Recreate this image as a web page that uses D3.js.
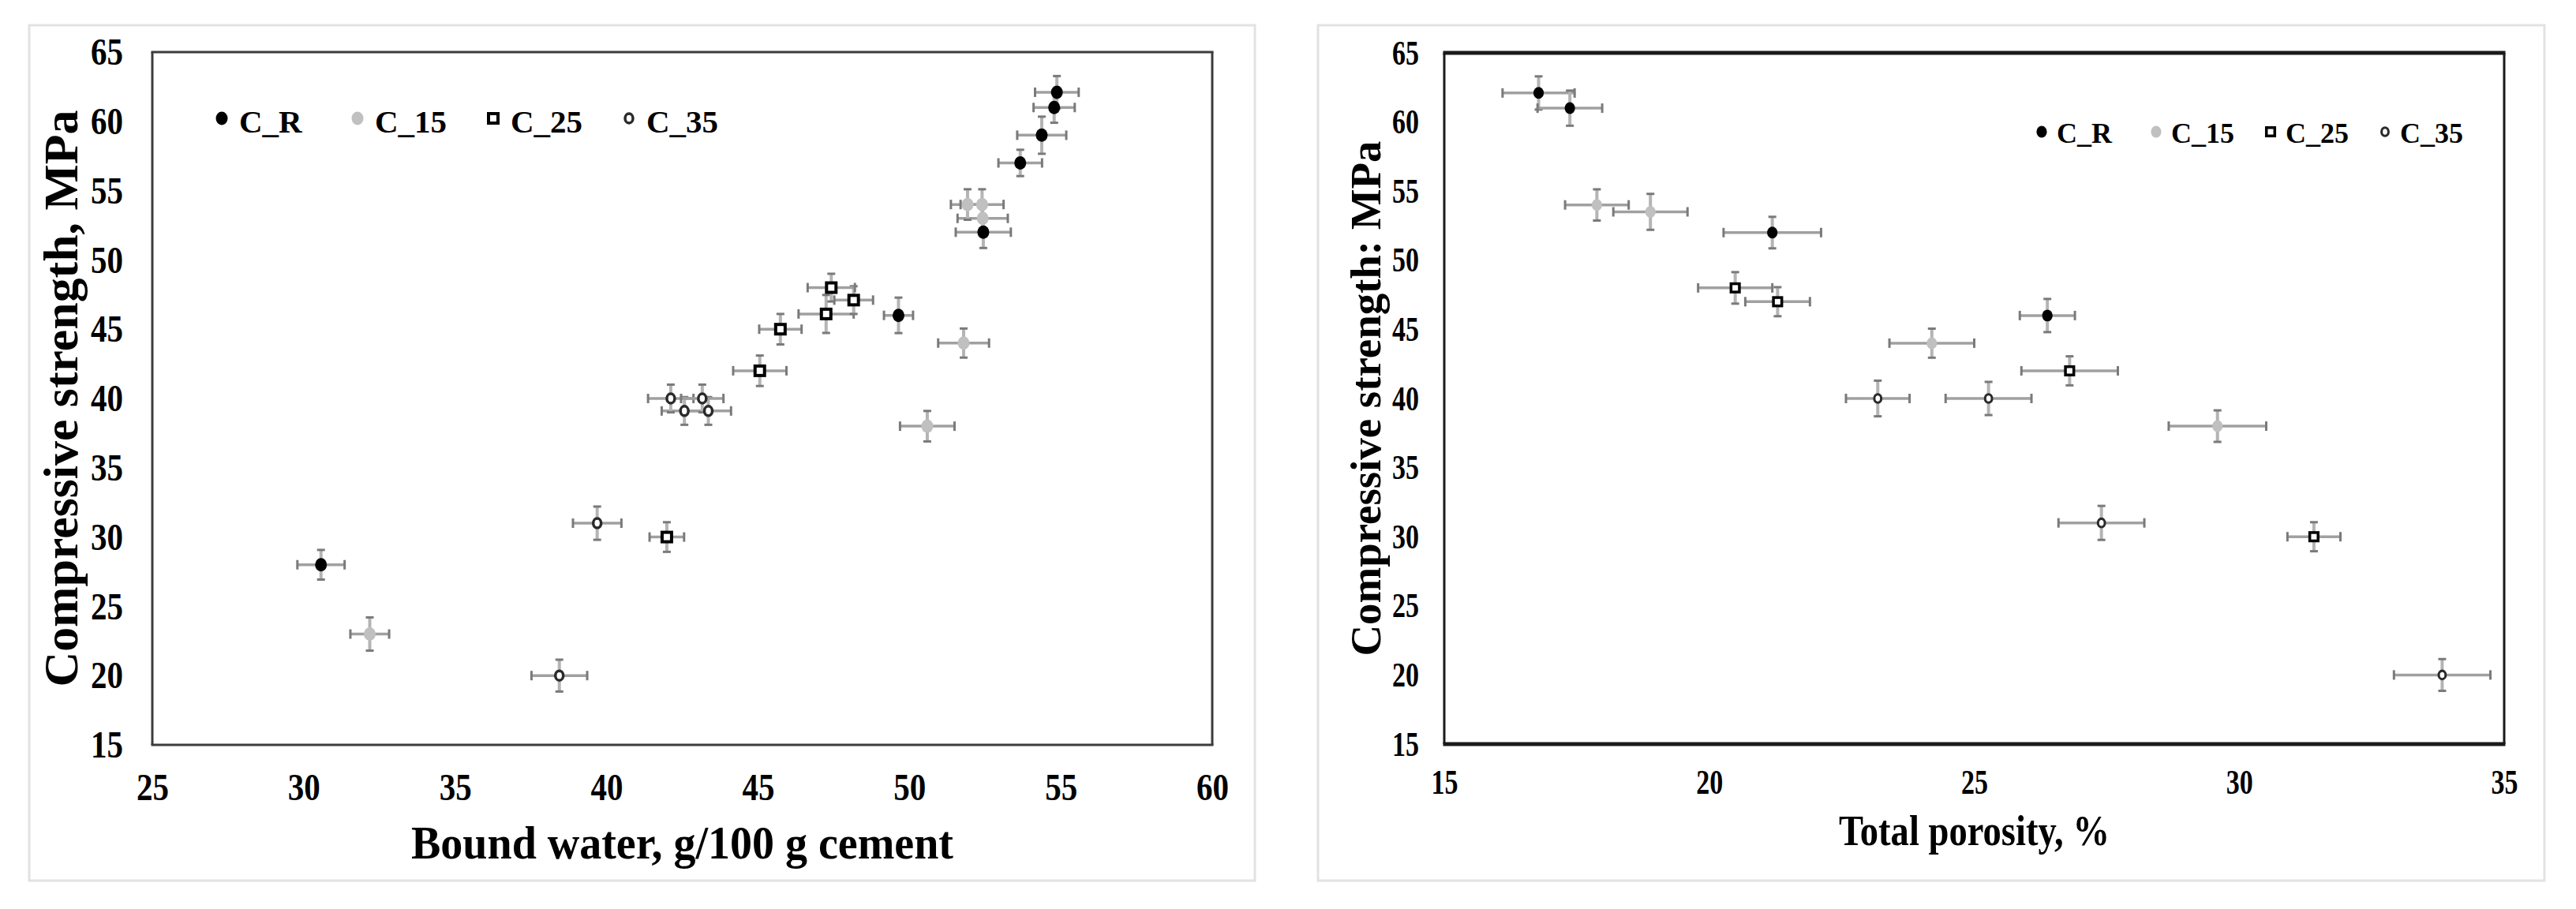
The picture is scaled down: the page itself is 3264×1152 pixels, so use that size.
<!DOCTYPE html>
<html>
<head>
<meta charset="utf-8">
<script src="https://cdn.jsdelivr.net/npm/d3@7"></script>
<style>
  html, body { margin: 0; padding: 0; background: #fff; }
  svg { display: block; }
</style>
</head>
<body>
<div id="chart"></div>
<script>
// series names
const seriesNames = ["C_R", "C_15", "C_25", "C_35"];

// ticks
const strengthTicks = [15, 20, 25, 30, 35, 40, 45, 50, 55, 60, 65];
const waterTicks = [25, 30, 35, 40, 45, 50, 55, 60];
const porosityTicks = [15, 20, 25, 30, 35];

// bound water vs strength : [x, y, xerr, yerr]
const bwCR = [[30.57, 28.0, 0.78, 1.07], [49.64, 46.0, 0.48, 1.28], [52.44, 52.0, 0.91, 1.14],
              [53.66, 57.0, 0.72, 0.95], [54.37, 59.0, 0.81, 1.34], [54.78, 61.0, 0.68, 1.1],
              [54.87, 62.1, 0.72, 1.17]];
const bwC15 = [[32.18, 23.0, 0.64, 1.2], [50.59, 38.0, 0.9, 1.1], [51.79, 44.0, 0.84, 1.05],
               [52.42, 53.0, 0.83, 1.0], [51.92, 54.0, 0.55, 1.1], [52.4, 54.0, 0.71, 1.1]];
const bwC25 = [[41.99, 30.0, 0.57, 1.07], [45.06, 42.0, 0.88, 1.1], [45.74, 45.0, 0.7, 1.1],
               [47.25, 46.1, 0.91, 1.37], [48.16, 47.1, 0.64, 1.0], [47.42, 48.0, 0.78, 1.0]];
const bwC35 = [[38.44, 20.0, 0.92, 1.15], [39.69, 31.0, 0.8, 1.2], [42.57, 39.1, 0.75, 1.0],
               [43.36, 39.1, 0.75, 1.0], [42.12, 40.0, 0.75, 1.0], [43.16, 40.0, 0.7, 1.0]];

// total porosity vs strength : [x, y, xerr, yerr]
const tpCR = [[16.78, 62.1, 0.68, 1.2], [17.37, 61.0, 0.61, 1.27], [21.19, 52.0, 0.92, 1.14],
              [26.38, 46.0, 0.52, 1.2]];
const tpC15 = [[17.88, 54.0, 0.6, 1.13], [18.89, 53.5, 0.7, 1.3], [24.2, 44.0, 0.8, 1.05],
               [29.59, 38.0, 0.92, 1.14]];
const tpC25 = [[20.49, 48.0, 0.7, 1.14], [21.29, 47.0, 0.61, 1.05], [26.8, 42.0, 0.91, 1.05],
               [31.41, 30.0, 0.5, 1.05]];
const tpC35 = [[23.18, 40.0, 0.6, 1.29], [25.27, 40.0, 0.81, 1.2], [27.4, 31.0, 0.81, 1.23],
               [33.83, 20.0, 0.91, 1.15]];

const FONT = "'Liberation Serif', 'Times New Roman', serif";

const svg = d3.select("#chart").append("svg")
    .attr("width", 3264)
    .attr("height", 1152);

svg.append("rect").attr("width", 3264).attr("height", 1152).attr("fill", "#fff");

const panels = [
  {
    frame: [37, 32, 1590, 1116],
    left: 193, right: 1536, top: 66, bottom: 944,
    xDomain: [25, 60], xTicks: waterTicks,
    data: [bwCR, bwC15, bwC25, bwC35],
    tickFont: 49, tickLen: 41, yPad: 37, xPad: 35,
    xTitle: "Bound water, g/100 g cement", xTitleFont: 60, xTitleLen: 687, xTitleY: 1088,
    yTitle: "Compressive strength, MPa", yTitleFont: 61, yTitleLen: 731, yTitleX: 98,
    legendX: 281, legendY: 150, legendStep: 172, legendTextDx: 22, legendFont: 41, legendBase: 18,
    mk: 1.0, borderTop: 3, borderBottom: 3, borderColor: "#3c3c3c"
  },
  {
    frame: [1670, 32, 3224, 1116],
    left: 1830, right: 3173, top: 67, bottom: 943,
    xDomain: [15, 35], xTicks: porosityTicks,
    data: [tpCR, tpC15, tpC25, tpC35],
    tickFont: 44, tickLen: 34, yPad: 32, xPad: 32,
    xTitle: "Total porosity, %", xTitleFont: 54, xTitleLen: 343, xTitleY: 1071,
    yTitle: "Compressive strength: MPa", yTitleFont: 54, yTitleLen: 653, yTitleX: 1749,
    legendX: 2587, legendY: 167, legendStep: 145, legendTextDx: 19, legendFont: 36, legendBase: 14,
    mk: 0.88, borderTop: 5, borderBottom: 5, borderColor: "#1a1a1a"
  }
];

function drawMarker(sel, i, cx, cy, s) {
  if (i === 0) {
    sel.append("ellipse").attr("cx", cx).attr("cy", cy).attr("rx", 7.5 * s).attr("ry", 8.5 * s)
      .attr("fill", "#000");
  } else if (i === 1) {
    sel.append("ellipse").attr("cx", cx).attr("cy", cy).attr("rx", 7.5 * s).attr("ry", 8.5 * s)
      .attr("fill", "#c0c0c0");
  } else if (i === 2) {
    const a = 12 * s;
    sel.append("rect").attr("x", cx - a / 2).attr("y", cy - a / 2).attr("width", a).attr("height", a)
      .attr("fill", "#fff").attr("stroke", "#000").attr("stroke-width", 4 * s);
  } else {
    sel.append("ellipse").attr("cx", cx).attr("cy", cy).attr("rx", 5 * s).attr("ry", 6 * s)
      .attr("fill", "#fff").attr("stroke", "#2a2a2a").attr("stroke-width", 3.5 * s);
  }
}

panels.forEach(function(p) {
  const g = svg.append("g");

  // light outer frame of the panel
  g.append("rect")
    .attr("x", p.frame[0]).attr("y", p.frame[1])
    .attr("width", p.frame[2] - p.frame[0]).attr("height", p.frame[3] - p.frame[1])
    .attr("fill", "#fff").attr("stroke", "#e2e2e2").attr("stroke-width", 3);

  const x = d3.scaleLinear().domain(p.xDomain).range([p.left, p.right]);
  const y = d3.scaleLinear().domain([15, 65]).range([p.bottom, p.top]);

  // y axis labels
  g.append("g")
    .attr("transform", `translate(${p.left},0)`)
    .call(d3.axisLeft(y).tickValues(strengthTicks).tickSize(0).tickPadding(p.yPad))
    .call(a => a.select(".domain").remove())
    .attr("font-family", FONT).attr("font-size", p.tickFont).attr("font-weight", "bold");

  // x axis labels
  g.append("g")
    .attr("transform", `translate(0,${p.bottom})`)
    .call(d3.axisBottom(x).tickValues(p.xTicks).tickSize(0).tickPadding(p.xPad))
    .call(a => a.select(".domain").remove())
    .attr("font-family", FONT).attr("font-size", p.tickFont).attr("font-weight", "bold");

  // narrow digits like the original
  g.selectAll(".tick text").attr("fill", "#000")
    .attr("textLength", p.tickLen).attr("lengthAdjust", "spacingAndGlyphs");

  // error bars
  const eb = g.append("g");
  p.data.forEach(function(pts) {
    pts.forEach(function(d) {
      const cx = x(d[0]), cy = y(d[1]);
      const x0 = x(d[0] - d[2]), x1 = x(d[0] + d[2]);
      const y0 = y(d[1] - d[3]), y1 = y(d[1] + d[3]);
      eb.append("line").attr("x1", x0).attr("x2", x1).attr("y1", cy).attr("y2", cy)
        .attr("stroke", "#a0a0a0").attr("stroke-width", 3.5);
      eb.append("line").attr("x1", cx).attr("x2", cx).attr("y1", y0).attr("y2", y1)
        .attr("stroke", "#b4b4b4").attr("stroke-width", 4);
      [x0, x1].forEach(xx => eb.append("line").attr("x1", xx).attr("x2", xx)
        .attr("y1", cy - 6).attr("y2", cy + 6).attr("stroke", "#7a7a7a").attr("stroke-width", 3));
      [y0, y1].forEach(yy => eb.append("line").attr("x1", cx - 5).attr("x2", cx + 5)
        .attr("y1", yy).attr("y2", yy).attr("stroke", "#7a7a7a").attr("stroke-width", 3));
    });
  });

  // markers
  p.data.forEach(function(pts, i) {
    const mg = g.append("g").attr("class", "series-" + seriesNames[i]);
    pts.forEach(d => drawMarker(mg, i, x(d[0]), y(d[1]), p.mk));
  });

  // plot border
  const bc = p.borderColor;
  g.append("line").attr("x1", p.left).attr("x2", p.left).attr("y1", p.top).attr("y2", p.bottom)
    .attr("stroke", bc).attr("stroke-width", 3);
  g.append("line").attr("x1", p.right).attr("x2", p.right).attr("y1", p.top).attr("y2", p.bottom)
    .attr("stroke", bc).attr("stroke-width", 3);
  g.append("line").attr("x1", p.left - 1.5).attr("x2", p.right + 1.5).attr("y1", p.top).attr("y2", p.top)
    .attr("stroke", bc).attr("stroke-width", p.borderTop);
  g.append("line").attr("x1", p.left - 1.5).attr("x2", p.right + 1.5).attr("y1", p.bottom).attr("y2", p.bottom)
    .attr("stroke", bc).attr("stroke-width", p.borderBottom);

  // legend
  const lg = g.append("g");
  seriesNames.forEach(function(name, i) {
    const lx = p.legendX + i * p.legendStep;
    drawMarker(lg, i, lx, p.legendY, p.mk);
    lg.append("text")
      .attr("x", lx + p.legendTextDx).attr("y", p.legendY + p.legendBase)
      .attr("font-family", FONT).attr("font-weight", "bold").attr("font-size", p.legendFont)
      .text(name);
  });

  // axis titles
  g.append("text")
    .attr("x", (p.left + p.right) / 2).attr("y", p.xTitleY)
    .attr("text-anchor", "middle")
    .attr("font-family", FONT).attr("font-weight", "bold").attr("font-size", p.xTitleFont)
    .attr("textLength", p.xTitleLen).attr("lengthAdjust", "spacingAndGlyphs")
    .text(p.xTitle);

  g.append("text")
    .attr("transform", `translate(${p.yTitleX},${(p.top + p.bottom) / 2}) rotate(-90)`)
    .attr("text-anchor", "middle")
    .attr("font-family", FONT).attr("font-weight", "bold").attr("font-size", p.yTitleFont)
    .attr("textLength", p.yTitleLen).attr("lengthAdjust", "spacingAndGlyphs")
    .text(p.yTitle);
});
</script>
</body>
</html>
